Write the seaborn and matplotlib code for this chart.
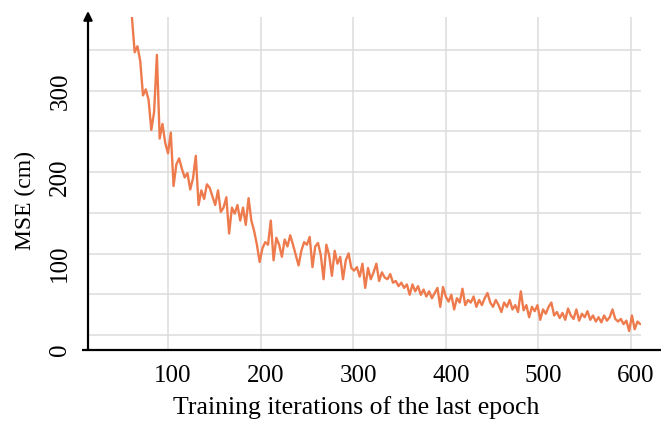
import numpy as np
import pandas as pd
import seaborn as sns
import matplotlib
matplotlib.use("Agg")
import matplotlib.pyplot as plt
import matplotlib.transforms as mtransforms

# Training iterations (sampled every 3 iterations) and the MSE recorded at each one
iterations = list(range(61, 611, 3))
mse_cm = [
    386, 345, 352, 335, 295, 302, 290, 255, 276, 342,
    245, 262, 240, 228, 252, 190, 215, 222, 210, 200,
    205, 186, 199, 225, 168, 185, 175, 192, 188, 178,
    168, 185, 160, 165, 177, 135, 165, 158, 168, 150,
    165, 145, 176, 150, 138, 122, 102, 118, 125, 122,
    150, 104, 130, 122, 108, 128, 120, 133, 122, 110,
    98, 115, 125, 122, 131, 96, 120, 124, 110, 82,
    122, 110, 86, 115, 100, 108, 82, 104, 112, 95,
    92, 96, 85, 100, 72, 95, 82, 90, 100, 80,
    90, 84, 82, 88, 78, 80, 74, 78, 72, 76,
    64, 76, 68, 74, 64, 70, 62, 68, 60, 66,
    72, 50, 73, 62, 56, 64, 47, 60, 55, 71,
    52, 58, 55, 62, 50, 58, 52, 60, 66, 55,
    50, 58, 52, 44, 55, 50, 58, 47, 52, 44,
    68, 46, 52, 38, 50, 45, 52, 35, 47, 42,
    50, 55, 40, 44, 37, 43, 35, 48, 40, 36,
    47, 34, 42, 38, 45, 35, 40, 33, 38, 32,
    40, 34, 38, 47, 36, 33, 36, 30, 34, 22,
    40, 24, 33, 30,
]
x_ticks = [100, 200, 300, 400, 500, 600]
y_ticks = [0, 100, 200, 300]

df = pd.DataFrame({"iteration": iterations, "mse": mse_cm})

sns.set_theme(style="white")
plt.rcParams["font.family"] = ["Liberation Serif", "DejaVu Serif"]

W, H = 661, 428
fig = plt.figure(figsize=(W / 100, H / 100), dpi=100)
ax_l, ax_r, ax_t, ax_b = 88, 641, 17, 350
aw, ah = ax_r - ax_l, ax_b - ax_t
ax = fig.add_axes([ax_l / W, 1 - ax_b / H, aw / W, ah / H])

sns.lineplot(data=df, x="iteration", y="mse", ax=ax, color="#EE7B4D",
             linewidth=1.7, zorder=3)

ax.set_xlim(13.6, 610.8)
ax.set_ylim(0, 385.9)

# light grid: vertical lines at the iteration ticks, horizontal lines evenly spaced
ax.set_xticks(x_ticks)
ax.set_yticks(y_ticks)
for xv in x_ticks:
    ax.axvline(xv, color="#dcdcdc", lw=1.1, zorder=1)
for yv in np.linspace(17.4, 347.6, 8):
    ax.axhline(yv, color="#dcdcdc", lw=1.1, zorder=1)

for s in ax.spines.values():
    s.set_visible(False)

# x axis line running past the plotting area, y axis with an arrow head
ax.plot([-6 / aw, (W - ax_l) / aw], [0, 0],
        transform=ax.transAxes, color="black", lw=1.6, clip_on=False, zorder=4,
        solid_capstyle="butt")
ax.annotate("", xy=(0, 1 + 6 / ah), xytext=(0, 0),
            xycoords="axes fraction", textcoords="axes fraction",
            arrowprops=dict(arrowstyle="-|>", color="black", lw=1.6,
                            mutation_scale=13, shrinkA=0, shrinkB=0),
            zorder=4, annotation_clip=False)

ax.tick_params(axis="both", length=0, labelsize=18, colors="black")
ax.tick_params(axis="x", pad=11)
ax.tick_params(axis="y", pad=12, labelrotation=90)
for lab in ax.get_yticklabels():
    lab.set_va("center")
shift = mtransforms.ScaledTranslation(5 / 100, 0, fig.dpi_scale_trans)
for lab in ax.get_xticklabels():
    lab.set_transform(lab.get_transform() + shift)

ax.set_xlabel("Training iterations of the last epoch", fontsize=18.5,
              color="black")
ax.set_ylabel("MSE (cm)", fontsize=17, color="black")
ax.xaxis.set_label_coords((356 - ax_l) / aw, -(396 - ax_b) / ah)
ax.yaxis.set_label_coords(-(ax_l - 36) / aw, (ax_b - 200) / ah)

fig.savefig("out.png", dpi=100, facecolor="white")
